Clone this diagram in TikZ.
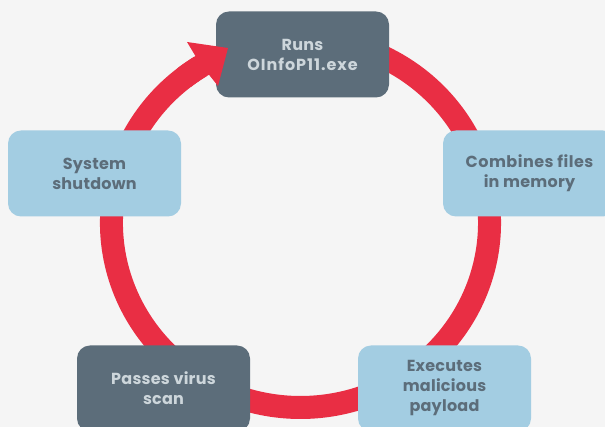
\documentclass[tikz,border=0pt]{standalone}
\usepackage{fontspec}
\setmainfont{Poppins}[LetterSpace=1.5]
\usetikzlibrary{backgrounds}
\definecolor{pagebg}{HTML}{F5F5F5}
\definecolor{slatebox}{HTML}{5C6D7A}
\definecolor{skybox}{HTML}{A3CDE2}
\definecolor{slatetext}{HTML}{CDD6DB}
\definecolor{ringred}{HTML}{E92E44}
\tikzset{
  x=1pt,y=1pt,
  stepnode/.style={minimum width=173pt,minimum height=86pt,rounded corners=13pt,inner sep=0pt,align=center,
    font=\fontsize{16}{20}\selectfont\bfseries},
  darkstep/.style={stepnode,fill=slatebox,text=slatetext},
  lightstep/.style={stepnode,fill=skybox,text=slatebox},
  ringarc/.style={draw=ringred,line width=23pt,line cap=butt},
  ringshape/.style={x radius=189pt,y radius=184.5pt}
}
\begin{document}
\begin{tikzpicture}
\useasboundingbox (0,0) rectangle (605,427);
\clip (0,0) rectangle (605,427);
\node[darkstep]  (runs)     at (302.5,372.5) {Runs\\{\addfontfeature{LetterSpace=6}OInfoP11.exe}};
\node[lightstep] (combines) at (529.5,253.5) {\addfontfeature{LetterSpace=3}Combines files\\in memory};
\node[lightstep] (executes) at (444.5,38.5)  {Executes\\malicious\\payload};
\node[darkstep]  (passes)   at (163.5,38.5)  {Passes virus\\scan};
\node[lightstep] (system)   at (94.5,253.5)  {System\\shutdown};
\coordinate (hub) at (300.5,204);
\begin{scope}[on background layer]
\fill[pagebg] (0,0) rectangle (605,427);
\draw[ringarc] (hub) ++(80:189pt and 184.5pt) arc[start angle=80,end angle=20,ringshape];
\draw[ringarc] (hub) ++(20:189pt and 184.5pt) arc[start angle=20,end angle=-65,ringshape];
\draw[ringarc] (hub) ++(-65:189pt and 184.5pt) arc[start angle=-65,end angle=-110,ringshape];
\draw[ringarc] (hub) ++(-110:189pt and 184.5pt) arc[start angle=-110,end angle=-200,ringshape];
\draw[ringarc] (hub) ++(160:189pt and 184.5pt) arc[start angle=160,end angle=122,ringshape];
\end{scope}
\draw[ringarc] (hub) ++(128:189pt and 184.5pt) arc[start angle=128,end angle=118,ringshape];
\fill[ringred] (187,385) -- (228,379) -- (218,341) -- (210,351) -- (196,370) -- cycle;
\end{tikzpicture}
\end{document}
